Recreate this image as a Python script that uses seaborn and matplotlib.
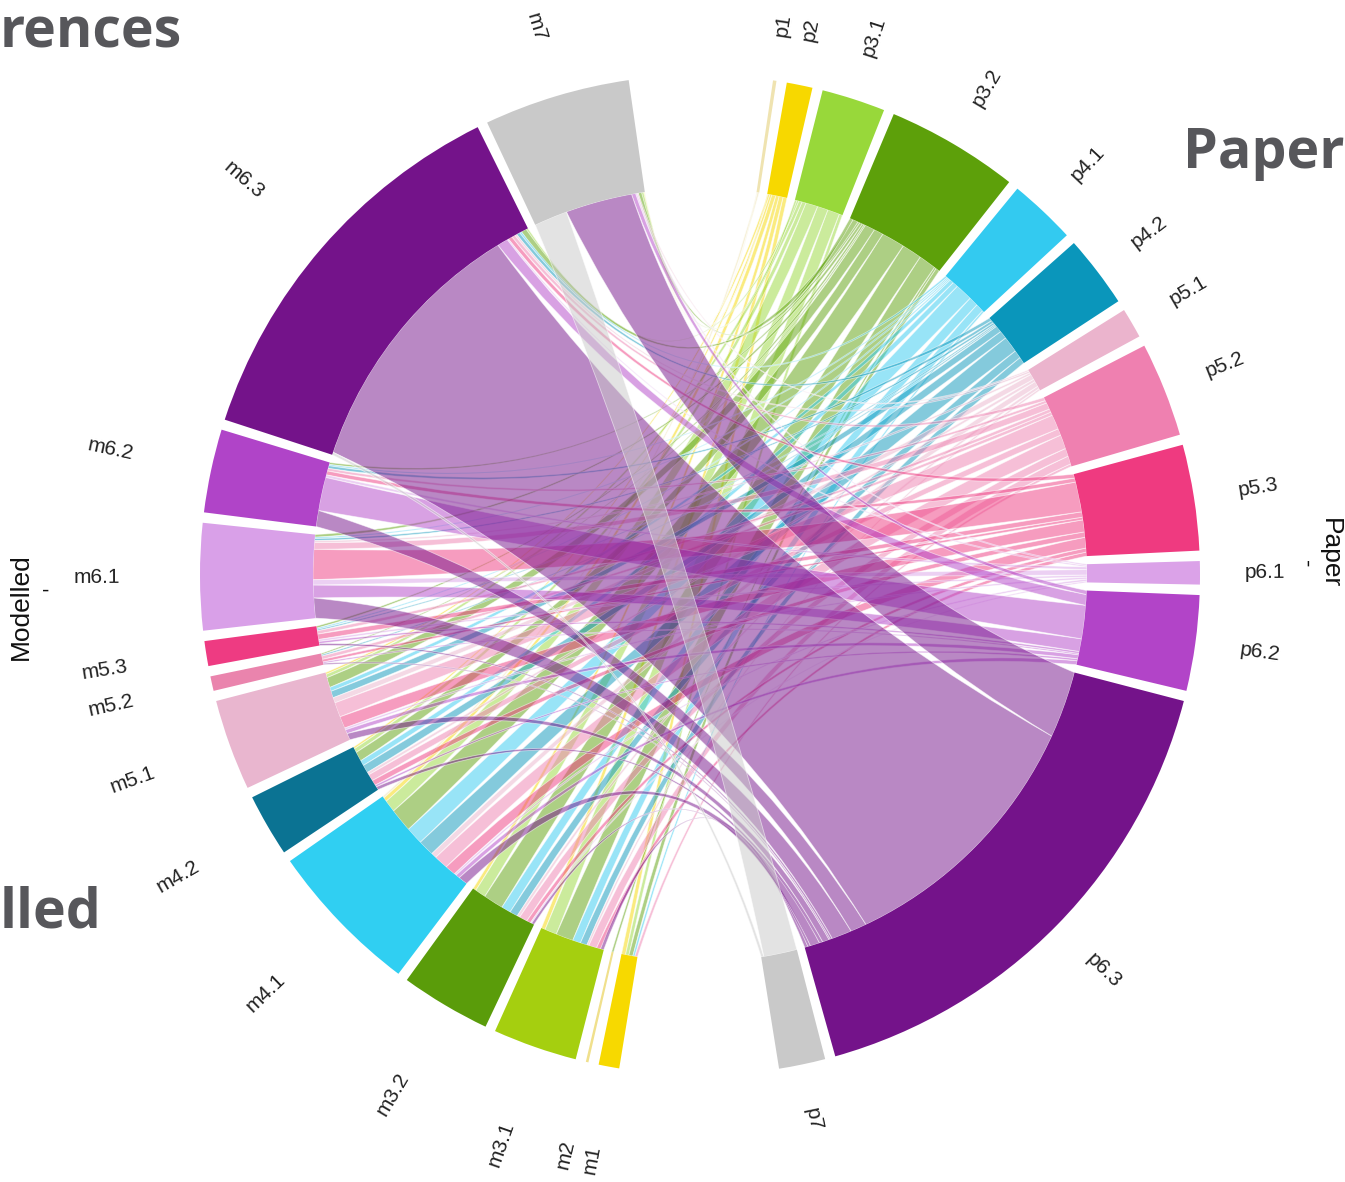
import numpy as np
import pandas as pd
import matplotlib
matplotlib.use("Agg")
import matplotlib.pyplot as plt
from matplotlib.path import Path
from matplotlib.patches import PathPatch, Wedge
import seaborn as sns

sns.set_theme(style="white")
plt.rcParams["font.family"] = ["Liberation Sans", "DejaVu Sans"]

# ---------------------------------------------------------------- data
modelled = ["m1", "m2", "m3.1", "m3.2", "m4.1", "m4.2", "m5.1",
            "m5.2", "m5.3", "m6.1", "m6.2", "m6.3", "m7"]
paper = ["p1", "p2", "p3.1", "p3.2", "p4.1", "p4.2", "p5.1",
         "p5.2", "p5.3", "p6.1", "p6.2", "p6.3", "p7"]

# flows from each modelled class to the paper classes (columns follow `paper`)
m1_flows   = [0.0, 0.6, 0.5, 0.6, 0.3, 0.0, 0.0, 0.4, 0.0, 0.0, 0.0, 0.0, 0.0]
m2_flows   = [0.0, 0.0, 0.0, 0.3, 0.0, 0.0, 0.0, 0.0, 0.0, 0.0, 0.0, 0.0, 0.0]
m3_1_flows = [0.0, 0.6, 1.8, 2.6, 1.2, 1.0, 0.3, 1.2, 0.6, 0.0, 0.0, 0.5, 0.0]
m3_2_flows = [0.0, 0.5, 1.6, 3.0, 1.4, 1.2, 0.4, 1.2, 0.6, 0.2, 0.0, 0.4, 0.0]
m4_1_flows = [0.3, 0.6, 1.8, 3.5, 2.6, 2.4, 0.8, 2.1, 1.6, 0.3, 0.6, 1.4, 0.0]
m4_2_flows = [0.0, 0.3, 0.6, 1.4, 0.8, 1.2, 0.4, 1.0, 0.8, 0.0, 0.3, 0.5, 0.0]
m5_1_flows = [0.0, 0.3, 0.5, 1.5, 0.6, 1.0, 0.8, 2.2, 1.8, 0.3, 0.6, 1.0, 0.0]
m5_2_flows = [0.0, 0.0, 0.0, 0.2, 0.0, 0.2, 0.0, 0.5, 0.4, 0.0, 0.2, 0.2, 0.0]
m5_3_flows = [0.0, 0.0, 0.0, 0.3, 0.2, 0.2, 0.0, 0.5, 0.8, 0.3, 0.3, 0.3, 0.0]
m6_1_flows = [0.0, 0.0, 0.0, 0.4, 0.2, 0.3, 0.3, 1.0, 4.5, 0.8, 1.9, 3.0, 0.0]
m6_2_flows = [0.0, 0.0, 0.0, 0.3, 0.2, 0.4, 0.0, 0.4, 0.6, 0.4, 5.0, 2.4, 0.0]
m6_3_flows = [0.0, 0.0, 0.3, 0.8, 0.3, 0.5, 0.3, 0.5, 0.6, 0.2, 1.6, 40.0, 0.4]
m7_flows   = [0.1, 0.1, 0.3, 0.5, 0.0, 0.0, 0.2, 0.0, 0.0, 0.2, 0.6, 10.0, 5.0]

modelled_colors = ["#f7d900", "#f0e08c", "#a5cf0f", "#5a9c0a", "#30cff2",
                   "#0b7393", "#e9b6cf", "#ea84ad", "#ee3b82", "#d9a0e8",
                   "#b044c8", "#74138a", "#c9c9c9"]
paper_colors = ["#efe3b0", "#f7d800", "#98d83a", "#5da00a", "#33caf0",
                "#0a96bb", "#ebb4cd", "#ef80b0", "#ef3a80", "#dba2e8",
                "#b244c8", "#74138a", "#c9c9c9"]

flow = pd.DataFrame([m1_flows, m2_flows, m3_1_flows, m3_2_flows, m4_1_flows,
                     m4_2_flows, m5_1_flows, m5_2_flows, m5_3_flows,
                     m6_1_flows, m6_2_flows, m6_3_flows, m7_flows],
                    index=modelled, columns=paper)

m_pal = dict(zip(modelled, sns.color_palette(modelled_colors)))
p_pal = dict(zip(paper, sns.color_palette(paper_colors)))

# ---------------------------------------------------------------- layout
GAP = 1.2           # degrees between neighbouring sectors
TOP_GAP = 16.6      # degrees between the two groups at the top
START = 81.6        # angle where the first paper sector begins
R_OUT, R_IN = 1.0, 0.774
m_size = flow.sum(axis=1)
p_size = flow.sum(axis=0)
total = m_size.sum() + p_size.sum()
bottom_gap = 360 - total - GAP * (len(paper) - 1 + len(modelled) - 1) - TOP_GAP

sector = {}
ang = START
for name in paper:
    sector[name] = (ang, ang - p_size[name])
    ang -= p_size[name] + GAP
ang += GAP
ang -= bottom_gap
for name in modelled:
    sector[name] = (ang, ang - m_size[name])
    ang -= m_size[name] + GAP

# positions of each link end inside its sector (clockwise, non crossing)
m_end, p_end = {}, {}
for m in modelled:
    hi = sector[m][0]
    for p in reversed(paper):
        v = flow.loc[m, p]
        if v > 0:
            m_end[(m, p)] = (hi, hi - v)
            hi -= v
for p in paper:
    hi = sector[p][0]
    for m in reversed(modelled):
        v = flow.loc[m, p]
        if v > 0:
            p_end[(m, p)] = (hi, hi - v)
            hi -= v


def pt(a, r=R_IN):
    t = np.deg2rad(a)
    return np.array([r * np.cos(t), r * np.sin(t)])


def arc(a1, a2, r=R_IN, n=40):
    t = np.deg2rad(np.linspace(a1, a2, n))
    return np.column_stack([r * np.cos(t), r * np.sin(t)])


def control(a1, a2):
    return 0.3 * (pt(a1) + pt(a2)) / 2


def ribbon(a_hi, a_lo, b_hi, b_lo):
    arc_a = arc(a_hi, a_lo)
    arc_b = arc(b_hi, b_lo)
    verts = list(arc_a)
    codes = [Path.MOVETO] + [Path.LINETO] * (len(arc_a) - 1)
    verts += [control(a_lo, b_hi), arc_b[0]]
    codes += [Path.CURVE3, Path.CURVE3]
    verts += list(arc_b[1:])
    codes += [Path.LINETO] * (len(arc_b) - 1)
    verts += [control(b_lo, a_hi), arc_a[0], arc_a[0]]
    codes += [Path.CURVE3, Path.CURVE3, Path.CLOSEPOLY]
    return Path(verts, codes)


# ---------------------------------------------------------------- figure
fig = plt.figure(figsize=(13.45, 11.82), dpi=100)
ax = fig.add_axes([0, 0, 1, 1])
ax.set_xlim(-1.4, 1.29)
ax.set_ylim(-1.214, 1.15)
ax.axis("off")

# links, coloured by the paper class
for m in modelled:
    for p in paper:
        if flow.loc[m, p] > 0:
            a_hi, a_lo = m_end[(m, p)]
            b_hi, b_lo = p_end[(m, p)]
            ax.add_patch(PathPatch(ribbon(a_hi, a_lo, b_hi, b_lo),
                                   facecolor=(*p_pal[p], 0.5),
                                   edgecolor=(1, 1, 1, 0.55), lw=0.6))

# outer sector track
for name in paper + modelled:
    hi, lo = sector[name]
    col = p_pal[name] if name in p_pal else m_pal[name]
    ax.add_patch(Wedge((0, 0), R_OUT, lo, hi, width=R_OUT - R_IN,
                       facecolor=col, edgecolor="none"))

# sector labels, reading outward on the right and inward on the left
for name in paper:
    hi, lo = sector[name]
    mid = (hi + lo) / 2
    x, y = pt(mid, 1.09)
    ax.text(x, y, name, rotation=mid, rotation_mode="anchor",
            ha="left", va="center", fontsize=15, color="#222222")
for name in modelled:
    hi, lo = sector[name]
    mid = ((hi + lo) / 2) % 360
    r_lab = 1.115 if mid < 115 else 1.16
    x, y = pt(mid, r_lab)
    ax.text(x, y, name, rotation=mid - 180, rotation_mode="anchor",
            ha="right", va="center", fontsize=15, color="#222222")

# group titles
W, H = 1345, 1182
fig.text(21 / W, 1 - 607 / H, "Modelled", rotation=90, ha="center",
         va="center", fontsize=19, color="#111111")
fig.text(46 / W, 1 - 591 / H, "-", ha="center", va="center",
         fontsize=16, color="#111111")
fig.text(1330 / W, 1 - 553 / H, "Paper", rotation=270, ha="center",
         va="center", fontsize=19, color="#111111")
fig.text(1306 / W, 1 - 564 / H, "-", rotation=270, ha="center",
         va="center", fontsize=16, color="#111111")

slide = dict(family=["Open Sans", "DejaVu Sans"], fontweight="bold",
             fontsize=40, color="#57575b", va="baseline", ha="left")
fig.text(0 / W, 1 - 47 / H, "rences", **slide)
fig.text(1183 / W, 1 - 168 / H, "Paper", **slide)
fig.text(0 / W, 1 - 928 / H, "lled", **slide)

fig.savefig("out.png", dpi=100, facecolor="white")
